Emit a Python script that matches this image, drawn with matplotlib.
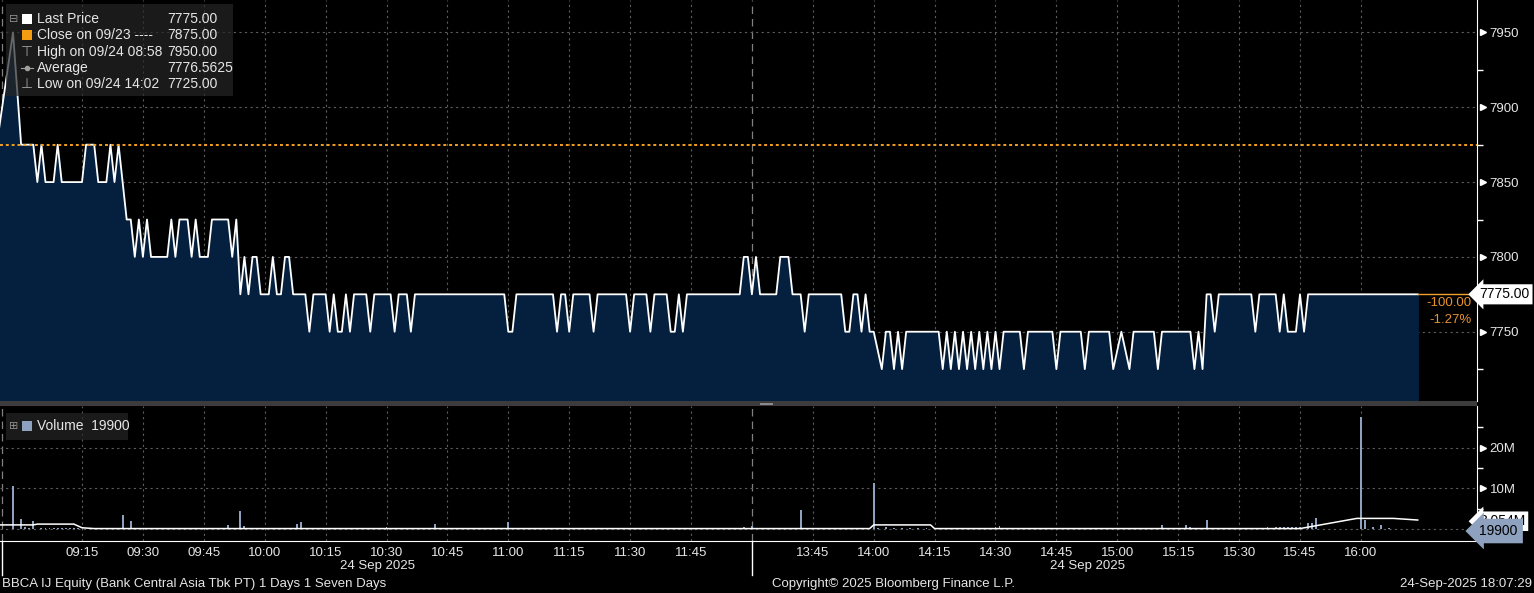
import matplotlib.pyplot as plt
from matplotlib.patches import Rectangle
from matplotlib.lines import Line2D
import numpy as np

plt.rcParams['font.family'] = ['Liberation Sans', 'DejaVu Sans']

# price path, morning session: minutes after 09:00 (negative = pre-open)
am_t = [-6, -2, 0, 3, 4, 5, 6, 8, 9, 10, 15, 16, 18, 19, 21, 22, 23, 24, 26, 27,
        28, 29, 30, 31, 32, 36, 37, 38, 39, 41, 42, 43, 44, 46, 47, 51, 52, 53, 54, 55,
        56, 57, 58, 59, 61, 62, 63, 64, 65, 66, 67, 70, 71, 72, 75, 76, 77, 78, 79, 80,
        81, 82, 85, 86, 87, 91, 92, 93, 95, 96, 97, 119, 120, 121, 122, 131, 132, 133, 134, 135,
        136, 140, 141, 142, 149, 150, 151, 154, 155, 156, 159, 160, 161, 162, 163, 164, 177, 178, 179, 180]
am_px = [7875, 7950, 7875, 7875, 7850, 7875, 7850, 7850, 7875, 7850, 7850, 7875, 7875, 7850, 7850, 7875, 7850, 7875, 7825, 7825,
         7800, 7825, 7800, 7825, 7800, 7800, 7825, 7800, 7825, 7825, 7800, 7825, 7800, 7800, 7825, 7825, 7800, 7825, 7775, 7800,
         7775, 7800, 7800, 7775, 7775, 7800, 7775, 7775, 7800, 7800, 7775, 7775, 7750, 7775, 7775, 7750, 7775, 7750, 7750, 7775,
         7750, 7775, 7775, 7750, 7775, 7775, 7750, 7775, 7775, 7750, 7775, 7775, 7750, 7750, 7775, 7775, 7750, 7775, 7775, 7750,
         7775, 7775, 7750, 7775, 7775, 7750, 7775, 7775, 7750, 7775, 7775, 7750, 7750, 7775, 7750, 7775, 7775, 7800, 7800, 7775]

# afternoon session: minutes after 13:30
pm_t = [0, 1, 2, 6, 7, 9, 10, 12, 13, 14, 22, 23, 24, 25, 26, 27, 28, 29, 30, 32,
        33, 34, 35, 36, 37, 38, 46, 47, 48, 49, 50, 51, 52, 53, 54, 55, 56, 57, 58, 59,
        60, 61, 62, 66, 67, 68, 74, 75, 76, 81, 82, 83, 88, 89, 91, 93, 94, 99, 100, 101,
        108, 109, 110, 111, 112, 113, 114, 115, 123, 124, 125, 129, 130, 131, 132, 134, 135, 136, 137, 164]
pm_px = [7775, 7800, 7775, 7775, 7800, 7800, 7775, 7775, 7750, 7775, 7775, 7750, 7750, 7775, 7775, 7750, 7775, 7750, 7750, 7725,
         7750, 7750, 7725, 7750, 7725, 7750, 7750, 7725, 7750, 7725, 7750, 7725, 7750, 7725, 7750, 7725, 7750, 7725, 7750, 7725,
         7750, 7725, 7750, 7750, 7725, 7750, 7750, 7725, 7750, 7750, 7725, 7750, 7750, 7725, 7750, 7725, 7750, 7750, 7725, 7750,
         7750, 7725, 7750, 7725, 7775, 7775, 7750, 7775, 7775, 7750, 7775, 7775, 7750, 7775, 7750, 7750, 7775, 7750, 7775, 7775]

# volume bars (millions of shares)
am_vol_t = [-2, 0, 1, 2, 3, 5, 6, 7, 8, 9, 10, 11, 12, 13, 14, 17, 19, 22, 25, 27,
            29, 31, 33, 36, 40, 44, 47, 49, 51, 54, 55, 56, 57, 58, 59, 60, 61, 62, 63, 64,
            65, 66, 67, 68, 69, 71, 75, 80, 90, 95, 102, 108, 113, 120, 128, 135, 145, 158, 167, 175, 178]
am_vol = [10.6, 2.5, 0.4, 0.3, 2.0, 0.3, 0.2, 0.3, 0.2, 0.3, 0.2, 0.3, 0.2, 0.3, 0.3, 0.2, 0.3, 0.2, 3.4, 2.0,
          0.2, 0.1, 0.2, 0.1, 0.2, 0.2, 0.1, 0.3, 1.0, 4.3, 0.8, 0.3, 0.2, 0.3, 0.3, 0.2, 0.3, 0.3, 0.2, 0.3,
          0.3, 0.2, 0.3, 1.2, 1.6, 0.2, 0.1, 0.2, 0.4, 0.1, 1.2, 0.1, 0.2, 1.6, 0.1, 0.2, 0.1, 0.2, 0.2, 0.3, 0.6]
pm_vol_t = [0, 12, 14, 16, 18, 20, 22, 24, 26, 28, 30, 31, 33, 35, 37, 39, 41, 43, 60, 61,
            71, 80, 95, 99, 101, 107, 108, 112, 115, 118, 121, 124, 127, 129, 130, 131, 132, 133, 134, 135,
            137, 138, 139, 150, 151, 153, 155, 157]
pm_vol = [0.8, 4.7, 0.2, 0.2, 0.2, 0.2, 0.2, 0.2, 0.2, 0.2, 11.4, 0.3, 0.6, 0.2, 0.2, 0.2, 0.2, 0.2, 0.4, 0.8,
          0.3, 0.3, 0.3, 0.3, 1.0, 1.0, 0.6, 2.2, 0.3, 0.3, 0.3, 0.3, 0.4, 0.4, 0.5, 0.4, 0.5, 0.4, 0.4, 0.5,
          1.5, 1.5, 2.6, 27.5, 2.2, 0.4, 1.0, 0.2]

# white average line on the volume panel
am_avg_t = [-6, 3, 4, 13, 15, 18, 180]
am_avg = [1.0, 1.0, 1.2, 1.2, 0.3, 0.1, 0.1]
pm_avg_t = [0, 29, 30, 44, 45, 135, 149, 158, 164]
pm_avg = [0.1, 0.1, 1.0, 1.0, 0.1, 0.1, 2.6, 2.6, 2.2]

am_ticks = ['09:15', '09:30', '09:45', '10:00', '10:15', '10:30', '10:45', '11:00', '11:15', '11:30', '11:45']
pm_ticks = ['13:45', '14:00', '14:15', '14:30', '14:45', '15:00', '15:15', '15:30', '15:45', '16:00']
price_major = [7750, 7800, 7850, 7900, 7950]
price_minor = [7725, 7775, 7825, 7875, 7925]
vol_major = [10, 20]
vol_minor = [5, 15, 25]

prev_close = 7875
last_price = 7775

W, H = 1534, 593
BREAK = 180  # 12:00 and 13:30 share this x position


def tx(s):
    h, m = map(int, s.split(':'))
    mins = h * 60 + m
    return mins - 540 if mins <= 720 else mins - 810 + BREAK


def fx(x):
    return x / W


def fy(y):
    return 1 - y / H


x_price = np.array(am_t + [BREAK + t for t in pm_t])
y_price = np.array(am_px + pm_px)
x_vol = np.array(am_vol_t + [BREAK + t for t in pm_vol_t])
y_vol = np.array(am_vol + pm_vol)
x_avg = np.array(am_avg_t + [BREAK + t for t in pm_avg_t])
y_avg = np.array(am_avg + pm_avg)
tick_pos = [tx(s) for s in am_ticks + pm_ticks]

fig = plt.figure(figsize=(W / 100, H / 100), dpi=100, facecolor='black')
ax_p = fig.add_axes([0, fy(401), fx(1477), 401 / H])
ax_v = fig.add_axes([0, fy(541), fx(1477), 135 / H])

grid_c = '#5c5c5c'
txt_c = '#e6e6e6'
xlim = (-5.2, 358.6)

for ax in (ax_p, ax_v):
    ax.set_facecolor('black')
    ax.set_xlim(*xlim)
    for s in ('top', 'left', 'bottom'):
        ax.spines[s].set_visible(False)
    ax.spines['right'].set_color('white')
    ax.yaxis.tick_right()
    ax.tick_params(axis='y', which='major', length=0, pad=9, colors=txt_c, labelsize=9.5)
    ax.tick_params(axis='y', which='minor', length=4, width=1, color='white', direction='out')
    for x in tick_pos:
        ax.axvline(x, color=grid_c, ls=(0, (2, 3)), lw=0.8, zorder=1)
    for x in (-4.7, BREAK):
        ax.axvline(x, color='#808080', ls=(0, (6, 4)), lw=0.9, zorder=1)

# price panel
ax_p.set_ylim(7703.7, 7971.7)
ax_p.set_yticks(price_major)
ax_p.set_yticks(price_minor, minor=True)
ax_p.set_xticks([])
for v in price_major:
    ax_p.axhline(v, color=grid_c, ls=(0, (2, 3)), lw=0.8, zorder=1)
    ax_p.plot([1.004], [v], marker='>', ms=4, color='white', transform=ax_p.get_yaxis_transform(), clip_on=False)
ax_p.fill_between(x_price, y_price, 7600, color='#04203e', zorder=2)
ax_p.plot(x_price, y_price, color='white', lw=1.3, zorder=3)
ax_p.axhline(prev_close, color='#f5a020', ls=(0, (1.5, 1.5)), lw=1.4, zorder=4)
ax_p.plot([x_price[-1], xlim[1]], [last_price, last_price], color='#f0a030', lw=1, zorder=4)
ax_p.text(1.0015, last_price, '7775.00', transform=ax_p.get_yaxis_transform(), ha='left', va='center',
          fontsize=10, color='black', clip_on=False, zorder=6,
          bbox=dict(boxstyle='larrow,pad=0.22', fc='white', ec='none'))
ax_p.text(0.9965, 7769, '-100.00', transform=ax_p.get_yaxis_transform(), ha='right', va='center',
          fontsize=9.5, color='#e8952c', zorder=6)
ax_p.text(0.9965, 7758, '-1.27%', transform=ax_p.get_yaxis_transform(), ha='right', va='center',
          fontsize=9.5, color='#e8952c', zorder=6)

# volume panel
ax_v.set_ylim(-2.95, 30.2)
ax_v.set_yticks(vol_major)
ax_v.set_yticklabels(['%dM' % v for v in vol_major])
ax_v.set_yticks(vol_minor, minor=True)
ax_v.spines['bottom'].set_visible(True)
ax_v.spines['bottom'].set_color('white')
for v in [0] + vol_major:
    ax_v.axhline(v, color=grid_c, ls=(0, (2, 3)), lw=0.8, zorder=1)
for v in vol_major:
    ax_v.plot([1.004], [v], marker='>', ms=4, color='white', transform=ax_v.get_yaxis_transform(), clip_on=False)
ax_v.bar(x_vol, y_vol, width=0.45, color='#8ea2c0', zorder=3)
ax_v.plot(x_avg, y_avg, color='white', lw=1.1, zorder=4)
ax_v.set_xticks(tick_pos)
ax_v.set_xticklabels(am_ticks + pm_ticks)
ax_v.tick_params(axis='x', length=0, pad=4, colors=txt_c, labelsize=9.5)
ax_v.text(1.0015, 1.9, '3.054M', transform=ax_v.get_yaxis_transform(), ha='left', va='center',
          fontsize=10, color='black', clip_on=False, zorder=5,
          bbox=dict(boxstyle='larrow,pad=0.2', fc='white', ec='none'))
ax_v.text(1.0015, -0.5, '19900', transform=ax_v.get_yaxis_transform(), ha='left', va='center',
          fontsize=10, color='black', clip_on=False, zorder=6,
          bbox=dict(boxstyle='larrow,pad=0.38', fc='#8ea2c0', ec='none'))

# panel separator
fig.patches.append(Rectangle((0, fy(406)), fx(1477), 5 / H, transform=fig.transFigure, fc='#3c3c3c', ec='none'))
fig.patches.append(Rectangle((fx(760), fy(404.5)), fx(13), 1.5 / H, transform=fig.transFigure, fc='#8a8a8a', ec='none'))

# frame lines under the time axis
for xp in (1.5, 752):
    fig.lines.append(Line2D([fx(xp), fx(xp)], [fy(541), fy(575)], transform=fig.transFigure, color='white', lw=1))

# price legend
fig.patches.append(Rectangle((fx(6), fy(96)), fx(227), 92 / H, transform=fig.transFigure,
                             fc='#262626', ec='none', alpha=0.7))
rows = [('Last Price', '7775.00'), ('Close on 09/23 ----', '7875.00'), ('High on 09/24 08:58', '7950.00'),
        ('Average', '7776.5625'), ('Low on 09/24 14:02', '7725.00')]
row_y = [19, 35, 52, 68, 84]
for (lab, val), yy in zip(rows, row_y):
    fig.text(fx(37), fy(yy), lab, color=txt_c, fontsize=10, va='center')
    fig.text(fx(167), fy(yy), val, color=txt_c, fontsize=10, va='center')
fig.text(fx(14), fy(19), '\u229f', color='#909090', fontsize=8, va='center', ha='center')
fig.patches.append(Rectangle((fx(22), fy(24)), fx(10), 10 / H, transform=fig.transFigure, fc='white', ec='none'))
fig.patches.append(Rectangle((fx(22), fy(40)), fx(10), 10 / H, transform=fig.transFigure, fc='#f39c12', ec='none'))
fig.text(fx(27), fy(52), '\u22a4', color='#a0a0a0', fontsize=10, va='center', ha='center')
fig.lines.append(Line2D([fx(21), fx(33)], [fy(68), fy(68)], transform=fig.transFigure, color='#a0a0a0', lw=0.8))
fig.lines.append(Line2D([fx(27)], [fy(68)], transform=fig.transFigure, color='#a0a0a0', marker='o', ms=3))
fig.text(fx(27), fy(84), '\u22a5', color='#a0a0a0', fontsize=10, va='center', ha='center')

# volume legend
fig.patches.append(Rectangle((fx(6), fy(440)), fx(122), 27 / H, transform=fig.transFigure,
                             fc='#262626', ec='none', alpha=0.7))
fig.text(fx(14), fy(426), '\u229e', color='#909090', fontsize=8, va='center', ha='center')
fig.patches.append(Rectangle((fx(22), fy(431)), fx(10), 10 / H, transform=fig.transFigure, fc='#8ea2c0', ec='none'))
fig.text(fx(37), fy(426), 'Volume  19900', color=txt_c, fontsize=10, va='center')

# dates and footer
fig.text(fx(377), fy(566), '24 Sep 2025', color=txt_c, fontsize=9.5, ha='center', va='center')
fig.text(fx(1088), fy(566), '24 Sep 2025', color=txt_c, fontsize=9.5, ha='center', va='center')
fig.text(fx(2), fy(584), 'BBCA IJ Equity (Bank Central Asia Tbk PT) 1 Days 1 Seven Days',
         color=txt_c, fontsize=9.5, ha='left', va='center')
fig.text(fx(772), fy(584), 'Copyright\u00a9 2025 Bloomberg Finance L.P.', color=txt_c, fontsize=9.5,
         ha='left', va='center')
fig.text(fx(1532), fy(584), '24-Sep-2025 18:07:29', color=txt_c, fontsize=9.5, ha='right', va='center')

fig.savefig('out.png', dpi=100, facecolor='black')
